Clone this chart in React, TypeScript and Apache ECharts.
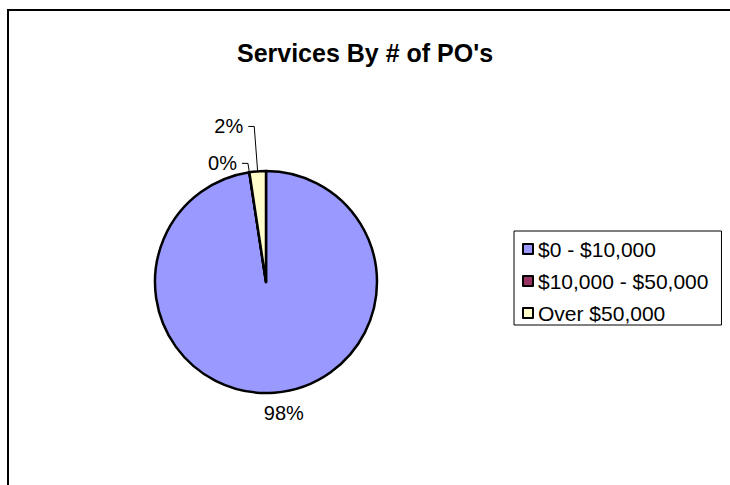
import React, { useEffect, useRef } from "react";
import * as echarts from "echarts";

const title = "Services By # of PO's";
const categories = ["$0 - $10,000", "$10,000 - $50,000", "Over $50,000"];
const values = [97.6, 0, 2.4];
const colors = ["#9999FF", "#993366", "#FFFFCC"];

const FONT = "'Liberation Sans', Arial, sans-serif";

export default function App() {
  const ref = useRef<HTMLDivElement>(null);
  useEffect(() => {
    document.body.style.margin = "0";
    const chart = echarts.init(ref.current!, null, { renderer: "svg" });
    const lineSettings = [
      { show: false, length: 20, length2: 0 },
      { show: true, length: 9, length2: 6 },
      { show: true, length: 45, length2: 6 },
    ];
    chart.setOption({
      animation: false,
      backgroundColor: "#ffffff",
      title: {
        text: title,
        left: "center",
        top: 35,
        textStyle: { fontFamily: FONT, fontSize: 25, fontWeight: "bold", color: "#000" },
      },
      legend: {
        orient: "vertical",
        left: 514,
        top: 231,
        icon: "rect",
        itemWidth: 10,
        itemHeight: 10,
        itemGap: 10,
        padding: [7, 13, 1, 8],
        borderColor: "#000",
        borderWidth: 1,
        backgroundColor: "#fff",
        itemStyle: { borderColor: "#000", borderWidth: 2 },
        textStyle: { fontFamily: FONT, fontSize: 21, lineHeight: 22, color: "#000" },
        data: categories,
      },
      graphic: [
        {
          type: "rect",
          shape: { x: 8, y: 10, width: 800, height: 600 },
          style: { fill: "none", stroke: "#000", lineWidth: 2 },
          silent: true,
        },
      ],
      series: [
        {
          type: "pie",
          center: [266, 282],
          radius: 111,
          startAngle: 90,
          clockwise: true,
          avoidLabelOverlap: false,
          itemStyle: { borderColor: "#000", borderWidth: 2.5 },
          label: {
            show: true,
            position: "outside",
            fontFamily: FONT,
            fontSize: 20,
            color: "#000",
            formatter: (p: any) => Math.round(p.percent) + "%",
          },
          labelLine: { lineStyle: { color: "#000", width: 1 } },
          labelLayout: (p: any) => (p.dataIndex === 0 ? { dx: -17 } : {}),
          data: categories.map((name, i) => ({
            name,
            value: values[i],
            itemStyle: { color: colors[i] },
            labelLine: lineSettings[i],
          })),
        },
      ],
    });
    return () => chart.dispose();
  }, []);
  return <div ref={ref} style={{ width: 730, height: 485 }} />;
}
